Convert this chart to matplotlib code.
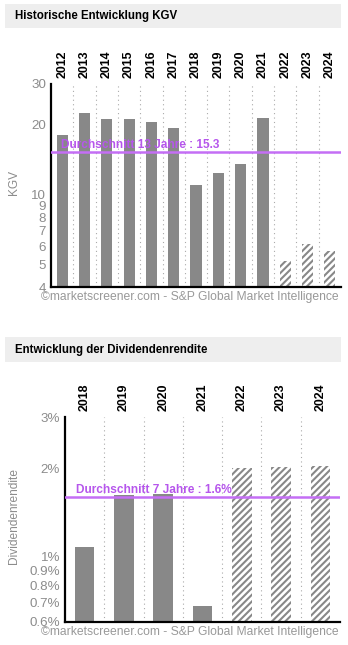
import matplotlib
matplotlib.use("Agg")
import matplotlib.pyplot as plt
from matplotlib.patches import Rectangle
import numpy as np

plt.rcParams['font.family'] = ['Liberation Sans', 'DejaVu Sans']
plt.rcParams['hatch.linewidth'] = 1.5

# ---- data ----
kgv_years = ['2012', '2013', '2014', '2015', '2016', '2017', '2018', '2019', '2020',
             '2021', '2022', '2023', '2024']
kgv_values = [18.1, 22.6, 21.3, 21.1, 20.5, 19.3, 11.0, 12.4, 13.5, 21.5, 5.2, 6.1, 5.7]
kgv_estimate = [False] * 10 + [True] * 3
kgv_avg = 15.3
kgv_avg_label = 'Durchschnitt 13 Jahre : 15.3'
kgv_ticks = [4, 5, 6, 7, 8, 9, 10, 20, 30]
kgv_ticklabels = ['4', '5', '6', '7', '8', '9', '10', '20', '30']

div_years = ['2018', '2019', '2020', '2021', '2022', '2023', '2024']
div_values = [1.08, 1.62, 1.64, 0.68, 2.01, 2.03, 2.05]
div_estimate = [False] * 4 + [True] * 3
div_avg = 1.6
div_avg_label = 'Durchschnitt 7 Jahre : 1.6%'
div_ticks = [0.6, 0.7, 0.8, 0.9, 1, 2, 3]
div_ticklabels = ['0.6%', '0.7%', '0.8%', '0.9%', '1%', '2%', '3%']

title1 = 'Historische Entwicklung KGV'
title2 = 'Entwicklung der Dividendenrendite'
footer = '\u00a9marketscreener.com - S&P Global Market Intelligence'

W, H = 348, 645
fig = plt.figure(figsize=(W / 100, H / 100), dpi=100)

def fx(x):
    return x / W

def fy(y):
    return 1 - y / H

BAR = '#888888'
PURPLE_LINE = '#c46ef5'
PURPLE_TEXT = '#b656ec'
GRAY_TXT = '#8c8c8c'

def header(y0, y1, text):
    fig.add_artist(Rectangle((fx(5), fy(y1)), fx(341) - fx(5), fy(y0) - fy(y1),
                             transform=fig.transFigure, facecolor='#eeeeee',
                             edgecolor='none', zorder=0))
    fig.text(fx(15), fy((y0 + y1) / 2), text, fontsize=8.3, fontweight='bold',
             color='black', ha='left', va='center')

def panel(left, right, top, bottom, cats, vals, est, avg, avg_label, ticks, ticklabels,
          ylim, ylabel, ylabel_y, label_xy, footer_y):
    ax = fig.add_axes([fx(left), fy(bottom), fx(right) - fx(left), fy(top) - fy(bottom)])
    ax.set_yscale('log')
    x = np.arange(len(cats))
    for xi, v, e in zip(x, vals, est):
        if e:
            ax.bar(xi, v, width=0.5, facecolor='white', edgecolor=BAR, hatch='/////',
                   linewidth=0, zorder=2)
        else:
            ax.bar(xi, v, width=0.5, color=BAR, linewidth=0, zorder=2)
    ax.set_xlim(-0.5, len(cats) - 0.5)
    ax.set_ylim(*ylim)
    for b in x[:-1] + 0.5:
        ax.axvline(b, color='#aaaaaa', linestyle=(0, (1, 3)), linewidth=0.8, zorder=1)
    ax.axhline(avg, color=PURPLE_LINE, linewidth=1.8, zorder=3)
    ax.text(label_xy[0], label_xy[1], avg_label, transform=None, color=PURPLE_TEXT,
            fontsize=8.6, fontweight='bold', ha='left', va='center', zorder=4)
    ax.xaxis.tick_top()
    ax.set_xticks(x)
    ax.set_xticklabels(cats, rotation=90, fontweight='bold', fontsize=8.9)
    ax.tick_params(axis='x', length=0, pad=4.5)
    ax.yaxis.set_minor_locator(matplotlib.ticker.NullLocator())
    ax.set_yticks(ticks)
    ax.set_yticklabels(ticklabels, color=GRAY_TXT, fontsize=9.6)
    ax.tick_params(axis='y', length=0, pad=3.5)
    for s in ['top', 'right']:
        ax.spines[s].set_visible(False)
    for s in ['left', 'bottom']:
        ax.spines[s].set_linewidth(1.6)
        ax.spines[s].set_color('black')
    fig.text(fx(14), fy(ylabel_y), ylabel, rotation=90, color=GRAY_TXT, fontsize=8.6,
             ha='center', va='center')
    fig.text(fx(41), fy(footer_y), footer, color='#999999', fontsize=8.7, ha='left',
             va='center', bbox=dict(facecolor='white', edgecolor='none', pad=0.3), zorder=10)
    return ax

header(4, 28, title1)
header(337, 362, title2)

# label position in display pixels (origin bottom-left)
panel(51, 341, 84, 287, kgv_years, kgv_values, kgv_estimate, kgv_avg, kgv_avg_label,
      kgv_ticks, kgv_ticklabels, (4, 30), 'KGV', 183, (61, H - 145), 297)
panel(65, 340, 417, 622, div_years, div_values, div_estimate, div_avg, div_avg_label,
      div_ticks, div_ticklabels, (0.6, 3), 'Dividendenrendite', 516, (76, H - 490), 632)

fig.savefig('out.png', dpi=100)
